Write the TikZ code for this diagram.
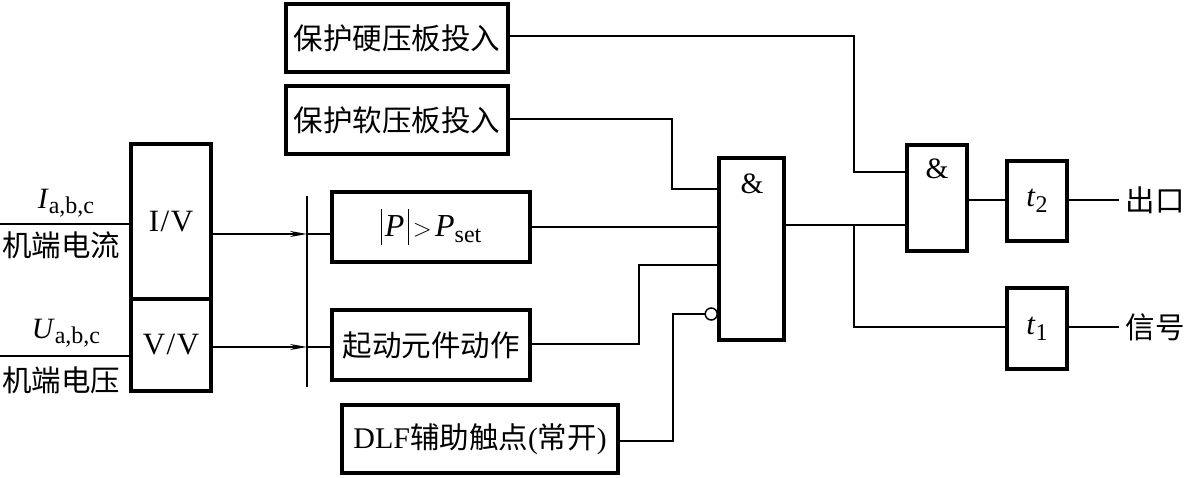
\documentclass[tikz,border=0pt]{standalone}
\usepackage{fontspec}
\setmainfont{Liberation Serif}
\newfontfamily\cjk{Noto Sans CJK SC}
\usetikzlibrary{arrows.meta}
\tikzset{
  blk/.style={draw, line width=3.4pt, rectangle, inner sep=0pt, font=\fontsize{29.5}{33}\selectfont},
  wire/.style={line width=1.5pt},
  arr/.style={wire, -{Stealth[length=17pt,width=6pt]}},
  lbl/.style={inner sep=0pt, font=\fontsize{29.5}{33}\selectfont},
}
\newcommand{\tallbar}{\raisebox{-0.25em}{\rule{0.05em}{1.1em}}}
\begin{document}
\begin{tikzpicture}[x=1pt,y=-1pt]
\useasboundingbox (0,0) rectangle (1187,478);
% blocks
\node[blk, minimum width=80pt, minimum height=155pt, font=\fontsize{31}{34}\selectfont] (iv) at (171,221.5) {I\kern0.05em/\kern0.05em V};
\node[blk, minimum width=80pt, minimum height=92pt, font=\fontsize{31}{34}\selectfont] (vv) at (171,345) {V\kern0.05em/\kern0.05em V};
\node[blk, minimum width=198pt, minimum height=70pt, font=\fontsize{32}{35}\selectfont] (pb) at (431,227) {\tallbar\kern0.08em\textit{P}\kern0.1em\tallbar\kern0.12em$>$\kern0.1em\textit{P}{\fontsize{24}{26}\selectfont\raisebox{-0.25em}{set}}};
\node[blk, minimum width=198pt, minimum height=70pt] (qd) at (431,345) {\cjk 起动元件动作};
\node[blk, minimum width=222pt, minimum height=68pt] (hard) at (397,38) {\cjk 保护硬压板投入};
\node[blk, minimum width=222pt, minimum height=68pt] (soft) at (397,120) {\cjk 保护软压板投入};
\node[blk, minimum width=276pt, minimum height=68pt] (dlf) at (480,439) {{\fontsize{30}{33}\selectfont DLF}{\cjk 辅助触点}({\cjk 常开})};
\node[blk, minimum width=65pt, minimum height=182pt] (and1) at (751.5,249) {};
\node[lbl] (amp1) at (752,184) {\&};
\node[blk, minimum width=60pt, minimum height=106pt] (and2) at (937,198) {};
\node[lbl] (amp2) at (937,169) {\&};
\node[blk, minimum width=60pt, minimum height=80pt, font=\fontsize{31}{34}\selectfont] (t2) at (1037,201) {\textit{t}{\fontsize{24}{26}\selectfont\raisebox{-0.25em}{2}}};
\node[blk, minimum width=60pt, minimum height=81pt, font=\fontsize{31}{34}\selectfont] (t1) at (1037,328.5) {\textit{t}{\fontsize{24}{26}\selectfont\raisebox{-0.25em}{1}}};
% labels
\node[lbl] (li) at (66,203) {\textit{I}{\fontsize{24}{26}\selectfont\raisebox{-0.2em}{a,b,c}}};
\node[lbl] (lic) at (61,245) {\cjk 机端电流};
\node[lbl] (lu) at (66,333) {\textit{U}{\fontsize{24}{26}\selectfont\raisebox{-0.2em}{a,b,c}}};
\node[lbl] (luc) at (61,380) {\cjk 机端电压};
\node[lbl] (o2) at (1155,200) {\cjk 出口};
\node[lbl] (o1) at (1155,327) {\cjk 信号};
% inputs
\coordinate (inI) at (0,224);
\coordinate (inU) at (0,356);
\draw[wire] (inI) -- (inI -| iv.west);
\draw[wire] (inU) -- (inU -| vv.west);
% bus
\coordinate (bt) at (307,196);
\coordinate (bb) at (307,387);
\draw[wire] (bt) -- (bb);
\coordinate (a1) at (307,234);
\coordinate (a2) at (307,347);
\draw[arr] (a1 -| iv.east) -- (a1);
\draw[wire] (a1) -- (a1 -| pb.west);
\draw[arr] (a2 -| vv.east) -- (a2);
\draw[wire] (a2) -- (a2 -| qd.west);
% AND1 inputs
\coordinate (s1) at (672,119);
\coordinate (s2) at (672,189);
\draw[wire] (s1 -| soft.east) -- (s1) -- (s2) -- (s2 -| and1.west);
\coordinate (p1) at (530,227);
\draw[wire] (p1 -| pb.east) -- (p1 -| and1.west);
\coordinate (q1) at (639,344);
\coordinate (q2) at (639,265);
\draw[wire] (q1 -| qd.east) -- (q1) -- (q2) -- (q2 -| and1.west);
\coordinate (d1) at (673,441);
\coordinate (d2) at (673,314);
\node[draw, circle, line width=1.5pt, minimum size=12pt, inner sep=0pt, anchor=east] (neg) at (718,314) {};
\draw[wire] (d1 -| dlf.east) -- (d1) -- (d2) -- (neg.west);
% AND1 output and branch
\coordinate (j) at (854,225);
\coordinate (h1) at (854,36);
\coordinate (h2) at (854,172);
\coordinate (b2) at (854,327);
\draw[wire] (j -| and1.east) -- (j) -- (j -| and2.west);
\draw[wire] (h1 -| hard.east) -- (h1) -- (h2) -- (h2 -| and2.west);
\draw[wire] (j) -- (b2) -- (b2 -| t1.west);
% outputs
\coordinate (e2) at (1119,200);
\coordinate (e1) at (1119,327);
\draw[wire] (e2 -| and2.east) -- (e2 -| t2.west);
\draw[wire] (e2 -| t2.east) -- (e2);
\draw[wire] (e1 -| t1.east) -- (e1);
\end{tikzpicture}
\end{document}
